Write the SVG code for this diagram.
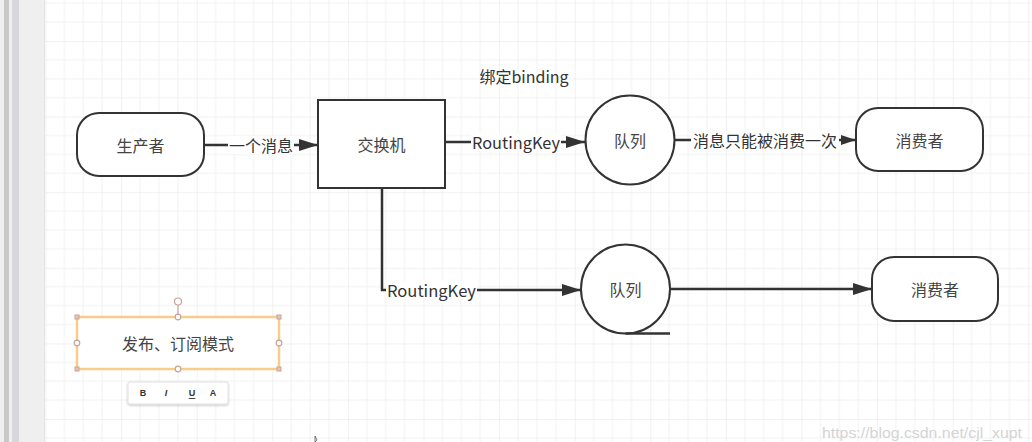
<svg xmlns="http://www.w3.org/2000/svg" width="1032" height="442" viewBox="0 0 1032 442">
  <style>
    .node { fill: #ffffff; stroke: #333333; stroke-width: 2; }
    .edge { fill: none; stroke: #333333; stroke-width: 2.5; }
    .ntext { font-family: "Noto Sans CJK SC", "Liberation Sans", sans-serif; font-size: 16px; fill: #444444; text-anchor: middle; dominant-baseline: central; }
    .ltext { font-family: "Noto Sans CJK SC", "Liberation Sans", sans-serif; font-size: 16px; fill: #333333; text-anchor: middle; dominant-baseline: central; }
    .lbg { fill: #ffffff; }
    .handle { fill: #ffffff; stroke: #c9a39b; stroke-width: 1.2; }
    .corner { fill: #e9c4b4; stroke: #c9a39b; stroke-width: 1; }
    .tb { font-family: "Liberation Sans", "DejaVu Sans", sans-serif; font-size: 9px; font-weight: bold; fill: #333333; text-anchor: middle; dominant-baseline: central; }
  </style>
  <defs>
    <pattern id="grid" patternUnits="userSpaceOnUse" x="45.5" y="41" width="75.6" height="75.6">
      <path d="M18.9 0V75.6M37.8 0V75.6M56.7 0V75.6M0 18.9H75.6M0 37.8H75.6M0 56.7H75.6" stroke="#f1f1f1" stroke-width="1" fill="none"/>
      <path d="M0 0V75.6M0 0H75.6" stroke="#e3e3e3" stroke-width="1" fill="none"/>
    </pattern>
    <marker id="arrow" markerUnits="userSpaceOnUse" markerWidth="20" markerHeight="12" refX="19" refY="6" orient="auto">
      <path d="M0 0L19 6L0 12Z" fill="#333333"/>
    </marker>
    <marker id="arrowSm" markerUnits="userSpaceOnUse" markerWidth="16" markerHeight="10" refX="15" refY="5" orient="auto">
      <path d="M0 0L15 5L0 10Z" fill="#333333"/>
    </marker>
    <filter id="shadow" x="-20%" y="-40%" width="140%" height="180%">
      <feDropShadow dx="0" dy="1" stdDeviation="1.2" flood-color="#000000" flood-opacity="0.25"/>
    </filter>
  </defs>

  <!-- background -->
  <rect x="0" y="0" width="1032" height="442" fill="#ffffff"/>
  <g id="sidebar">
    <rect x="0" y="0" width="45" height="442" fill="#efefef"/>
    <rect x="4" y="0" width="5" height="442" fill="#c8c8c8"/>
    <rect x="12" y="0" width="7" height="442" fill="#d5d7dc"/>
    <rect x="44" y="0" width="1" height="442" fill="#e4e4e4"/>
  </g>
  <rect x="45" y="0" width="987" height="442" fill="url(#grid)"/>

  <!-- connectors -->
  <g id="connectors">
    <path class="edge" d="M204 145H318" marker-end="url(#arrow)"/>
    <rect class="lbg" x="228" y="136" width="66" height="18"/>
    <text class="ltext" x="261" y="145">一个消息</text>

    <path class="edge" d="M445 142H585" marker-end="url(#arrow)"/>
    <rect class="lbg" x="471" y="133" width="90" height="18"/>
    <text class="ltext" x="516" y="142" font-size="15" textLength="88" lengthAdjust="spacingAndGlyphs">RoutingKey</text>

    <path class="edge" d="M675 140H856" marker-end="url(#arrowSm)"/>
    <rect class="lbg" x="691" y="131" width="148" height="18"/>
    <text class="ltext" x="765" y="140">消息只能被消费一次</text>

    <path class="edge" d="M382 188V290H581" marker-end="url(#arrow)"/>
    <rect class="lbg" x="386" y="281" width="91" height="18"/>
    <text class="ltext" x="431.5" y="290" font-size="15" textLength="89" lengthAdjust="spacingAndGlyphs">RoutingKey</text>

    <path class="edge" d="M670 289H872" marker-end="url(#arrow)"/>

    <text class="ltext" x="524" y="76" font-size="15.5">绑定binding</text>
  </g>

  <!-- nodes -->
  <g id="producer">
    <rect class="node" x="77" y="113" width="127" height="63" rx="22" ry="22"/>
    <text class="ntext" x="140.5" y="145">生产者</text>
  </g>
  <g id="exchange">
    <rect class="node" x="318" y="100" width="127" height="88"/>
    <text class="ntext" x="381.5" y="144">交换机</text>
  </g>
  <g id="queue1">
    <circle class="node" cx="630" cy="140" r="44.5"/>
    <text class="ntext" x="630" y="140">队列</text>
  </g>
  <g id="consumer1">
    <rect class="node" x="856" y="108" width="127" height="63" rx="22" ry="22"/>
    <text class="ntext" x="919.5" y="140">消费者</text>
  </g>
  <g id="queue2">
    <circle class="node" cx="625.5" cy="289" r="44.5"/>
    <path d="M625.5 333.5H670" fill="none" stroke="#333333" stroke-width="2.5"/>
    <text class="ntext" x="625.5" y="289">队列</text>
  </g>
  <g id="consumer2">
    <rect class="node" x="872" y="257" width="126" height="64" rx="22" ry="22"/>
    <text class="ntext" x="935" y="289">消费者</text>
  </g>

  <g id="title-label">
    <rect x="77" y="317" width="202" height="52" fill="#ffffff" stroke="#f8cd8c" stroke-width="2.5"/>
    <text class="ntext" x="178" y="343">发布、订阅模式</text>
    <line x1="178" y1="305" x2="178" y2="317" stroke="#c9a39b" stroke-width="1.2"/>
    <circle class="handle" cx="178" cy="301.5" r="3.5"/>
    <circle class="handle" cx="178" cy="317" r="2.8"/>
    <circle class="handle" cx="178" cy="369" r="2.8"/>
    <circle class="handle" cx="77" cy="343" r="2.8"/>
    <circle class="handle" cx="279" cy="343" r="2.8"/>
    <rect class="corner" x="75" y="315" width="4" height="4"/>
    <rect class="corner" x="277" y="315" width="4" height="4"/>
    <rect class="corner" x="75" y="367" width="4" height="4"/>
    <rect class="corner" x="277" y="367" width="4" height="4"/>
  </g>

  <g id="toolbar">
    <rect x="128" y="382" width="100" height="22" rx="2" fill="#ffffff" stroke="#e2e2e2" stroke-width="1" filter="url(#shadow)"/>
    <text class="tb" x="143" y="393">B</text>
    <text class="tb" x="166" y="393" font-style="italic">I</text>
    <text class="tb" x="192" y="393" text-decoration="underline">U</text>
    <text class="tb" x="213" y="393">A</text>
  </g>

  <path d="M315 436V442L317 440Z" fill="#ffffff" stroke="#555555" stroke-width="0.8"/>

  <text x="1022" y="433" font-family="Liberation Sans, Arial, sans-serif" font-size="14" fill="#d4d4d4" text-anchor="end" dominant-baseline="central" textLength="200" lengthAdjust="spacingAndGlyphs">https://blog.csdn.net/cjl_xupt</text>
</svg>
